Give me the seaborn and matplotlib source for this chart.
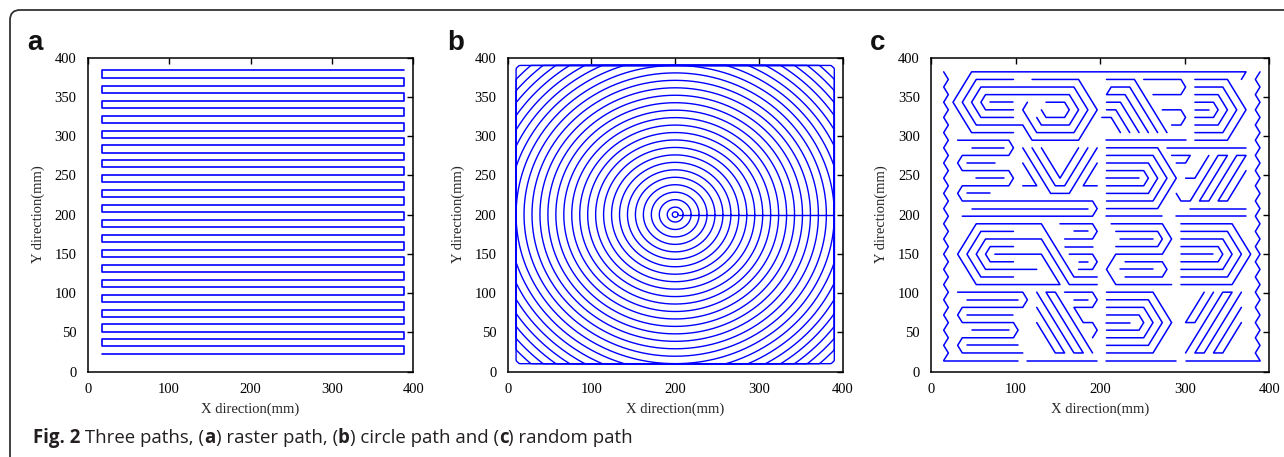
import re
import numpy as np
import pandas as pd
import matplotlib
matplotlib.use("Agg")
import matplotlib.pyplot as plt
import seaborn as sns
from matplotlib.patches import FancyBboxPatch
from matplotlib.transforms import IdentityTransform

W, H = 1284, 457

# (a) raster path: y level of every pass (mm), and x ends of the passes
raster_y = [22, 32, 41, 51, 60, 70, 79, 89, 98, 108,
            117, 127, 136, 146, 155, 165, 174, 184, 193, 203,
            212, 222, 231, 241, 250, 260, 269, 279, 288, 298,
            307, 317, 326, 336, 345, 355, 364, 374, 384]
raster_x_left = 17
raster_x_right = 388

# (b) circle path: ring radii (mm) about the plate centre, clipped to the plate
circle_center = (200, 200)
circle_radii = [3.5, 9.5, 19, 28.5, 38, 47.5, 57, 66.5, 76, 85.5,
                95, 104.5, 114, 123.5, 133, 142.5, 152, 161.5, 171, 180.5,
                190, 199.5, 209, 218.5, 228, 237.5, 247, 256.5, 266]
circle_plate = (10, 390)
link_x = [204, 388]
link_y = [200, 200]

# (c) random path, read as chain codes on the triangular lattice of the picture
# (start column, start row, moves); a column is 5.5 mm, a row is 9.68 mm
lattice_x0, lattice_dx = 15, 5.5
lattice_y0, lattice_dy = 14, 9.68
random_path = [
    # left and right borders
    (0, 38, "dr1 dl1 dr1 dl1 dr1 dl1 dr1 dl1 dr1 dl1 dr1 dl1 dr1 dl1 dr1 dl1 dr1 dl1 dr1 dl1 "
            "dr1 dl1 dr1 dl1 dr1 dl1 dr1 dl1 dr1 dl1 dr1 dl1 dr1 dl1 dr1 dl1 dr1 dl1"),
    (68, 38, "dl1 dr1 dl1 dr1 dl1 dr1 dl1 dr1 dl1 dr1 dl1 dr1 dl1 dr1 dl1 dr1 dl1 dr1 dl1 dr1 "
             "dl1 dr1 dl1 dr1 dl1 dr1 dl1 dr1 dl1 dr1 dl1 dr1 dl1 dr1 dl1 dr1 dl1 dr1"),
    # top band
    (64, 37, "ur1 L59 dl4 dr4 R9"),
    (19, 37, "R10 dr4 dl4 L10 ul2 L10 ul3 ur3 R8"),
    (15, 32, "L7 ul2 ur2 R20 dr3 dl3 L8 ul3 ur1"),
    (15, 33, "L6 ul1 ur1 R18 dr2 dl2 L6 ul1"),
    (10, 34, "R5"),
    (22, 34, "R4 dr1 dl1 L4 ul1"),
    (35, 37, "R6 dr7"),
    (46, 30, "ul6 L4 dl1 R4 dr5"),
    (35, 34, "R3 dr4"),
    (35, 33, "R2 dr3"),
    (34, 32, "R2 dr2"),
    (43, 37, "R8 dr1 dl1 L6"),
    (47, 33, "R4 dr1 dl1 L2"),
    (54, 34, "R4 dr1 dl1 L4"),
    (54, 35, "R5 dr2 dl2 L5"),
    (54, 36, "R6 dr3 dl3 L6"),
    (54, 37, "R7 dr4 dl4 L7"),
    (54, 33, "R3"),
    (35, 29, "R17"),
    # upper middle band
    (3, 29, "R11 dr1 dl1 L10 dl1 dr1 R10 dr1 dl1 L10 dl1 dr1 R28 dr1 dl1 L28"),
    (6, 28, "R7"), (5, 26, "R6"), (7, 24, "R6"), (5, 22, "R5"), (6, 20, "R25"),
    (17, 28, "dr6 R4 ur6"),
    (19, 28, "dr5 R2 ur5"),
    (21, 28, "dr4 ur4"),
    (17, 26, "dr3 L3"),
    (33, 26, "dl3 R3"),
    (35, 25, "R8 dr1 dl1 L8"),
    (35, 26, "R9 dr2 dl2 L9"),
    (35, 27, "R10 dr3 dl3 L10"),
    (35, 28, "R11 dr4 dl4 L11"),
    (35, 24, "R7"),
    (35, 19, "R12"),
    (49, 27, "R4 dl1 L2"),
    (50, 22, "dr1 R2 ur6 R2 dl6 R2 ur6 R2 dl6 R2 ur4"),
    (52, 24, "R2 ur3"),
    (48, 28, "R17"),
    (53, 20, "R12"),
    (50, 19, "R15"),
    # lower middle band
    (33, 11, "L5 ul7 L14 dl4 dr4 R18 ul4 L10"),
    (33, 10, "L6 ul6 L12 dl2 dr2 R11"),
    (15, 15, "L5 dl1 dr1 R5"),
    (15, 17, "L7 dl3 dr3 R7"),
    (25, 18, "R7 dr1 dl1 L6"),
    (28, 17, "R3"),
    (26, 15, "R6"),
    (27, 14, "R5 dr1 dl1 L3"),
    (29, 13, "R2"),
    (36, 18, "R11 dr2 dl2 L10 dl2 dr2 R12"),
    (37, 17, "R9 dr1 dl1 L9"),
    (38, 16, "R7"),
    (39, 13, "R8 dr1 dl1 L8"),
    (38, 12, "R7"),
    (51, 15, "R8 dr1 dl1 L8"),
    (51, 16, "R9 dr2 dl2 L9"),
    (51, 17, "R10 dr3 dl3 L10"),
    (51, 18, "R11 dr4 dl4 L11"),
    (51, 14, "R7"),
    # bottom band
    (3, 9, "R14 dr1 dl1 L13 dl1 dr1 R11 dr1 dl1 L11 dl1 dr1 R13"),
    (5, 8, "R11"), (5, 6, "R10"), (6, 4, "R8"), (5, 2, "R11"),
    (0, 0, "R16"),
    (20, 9, "dr8 R2 ul8 R2 dr8"),
    (20, 7, "dr6 L2 ul4"),
    (26, 9, "R6 dr1 dl1 L4 dr2 R2 dr1 dl1"),
    (28, 8, "R3"),
    (18, 0, "R15"),
    (35, 6, "R7 dr1 dl1 L7"),
    (35, 7, "R8 dr2 dl2 L8"),
    (35, 8, "R9 dr3 dl3 L9"),
    (35, 9, "R10 dr4 dl4 L10"),
    (35, 5, "R5"),
    (35, 0, "R15"),
    (52, 1, "ur8 R2 dl8 R2 ur8"),
    (64, 7, "dl6 R2 ur4"),
    (58, 9, "dl4 L2 ur4"),
    (52, 0, "R16"),
]

path_color = "#0000ff"
STEPS = {"R": (1, 0), "L": (-1, 0), "ur": (1, 1), "ul": (-1, 1),
         "dr": (1, -1), "dl": (-1, -1)}


def raster_frame():
    xs, ys = [], []
    for i, y in enumerate(raster_y):
        ends = [raster_x_left, raster_x_right] if i % 2 == 0 else [raster_x_right, raster_x_left]
        xs += ends
        ys += [y, y]
    return pd.DataFrame({"x": xs, "y": ys, "unit": 0})


def circle_frame():
    theta = np.linspace(0, 2 * np.pi, 721)
    lo, hi = circle_plate
    parts = []
    for k, r in enumerate(circle_radii):
        x = np.clip(circle_center[0] + r * np.cos(theta), lo, hi)
        y = np.clip(circle_center[1] + r * np.sin(theta), lo, hi)
        parts.append(pd.DataFrame({"x": x, "y": y, "unit": k}))
    parts.append(pd.DataFrame({"x": link_x, "y": link_y, "unit": len(circle_radii)}))
    return pd.concat(parts, ignore_index=True)


def maze_frame():
    parts = []
    for k, (c, r, moves) in enumerate(random_path):
        cols, rows = [c], [r]
        for name, n in re.findall(r"([a-zA-Z]+)(\d+)", moves):
            dc, dr = STEPS[name]
            for _ in range(int(n)):
                c += dc
                r += dr
                cols.append(c)
                rows.append(r)
        parts.append(pd.DataFrame({
            "x": lattice_x0 + lattice_dx * np.array(cols),
            "y": lattice_y0 + lattice_dy * np.array(rows),
            "unit": k}))
    return pd.concat(parts, ignore_index=True)


def style_axes(ax):
    ax.set_xlim(0, 400)
    ax.set_ylim(0, 400)
    ax.set_xticks([0, 100, 200, 300, 400])
    ax.set_yticks(list(range(0, 401, 50)))
    ax.tick_params(direction="in", top=True, right=True, length=4, width=1,
                   labelsize=10.5, pad=8, colors="black")
    for s in ax.spines.values():
        s.set_visible(True)
        s.set_linewidth(1.1)
        s.set_color("black")
    ax.set_xlabel("X direction(mm)", fontsize=10.5, labelpad=5)
    ax.set_ylabel("Y direction(mm)", fontsize=10.5, labelpad=7)


sns.set_theme(style="white")
plt.rcParams["font.family"] = ["Liberation Serif", "DejaVu Serif"]

fig = plt.figure(figsize=(W / 100, H / 100), dpi=100)
fig.patch.set_facecolor("white")

panel_left = [87.7, 507.7, 931]
panel_width = [325.6, 335, 338.3]
bottom, height = 0.187, 0.687
frames = [raster_frame(), circle_frame(), maze_frame()]
line_w = [1.2, 1.0, 1.1]

for i, df in enumerate(frames):
    ax = fig.add_axes([panel_left[i] / W, bottom, panel_width[i] / W, height])
    sns.lineplot(data=df, x="x", y="y", units="unit", estimator=None, sort=False,
                 color=path_color, lw=line_w[i], legend=False, ax=ax)
    style_axes(ax)

# panel letters
for letter, px in zip(["a", "b", "c"], [27, 447, 870]):
    fig.text(px / W, 1 - 50 / H, letter, fontsize=20, fontweight="bold",
             family="Liberation Sans", va="baseline", color="#111111")

# caption with bold pieces
pieces = [("Fig. 2", "bold"), (" Three paths, (", "normal"), ("a", "bold"),
          (") raster path, (", "normal"), ("b", "bold"),
          (") circle path and (", "normal"), ("c", "bold"), (") random path", "normal")]
renderer = fig.canvas.get_renderer()
x = 33
for txt, w in pieces:
    t = fig.text(x / W, 1 - 443 / H, txt, fontsize=13.4, fontweight=w,
                 family="Open Sans", va="baseline", color="#231f20")
    x += t.get_window_extent(renderer).width

# rounded frame around the figure
frame = FancyBboxPatch((10, -40), 1400, H - 10 + 40,
                       boxstyle="round,pad=0,rounding_size=10",
                       transform=IdentityTransform(), facecolor="none",
                       edgecolor="#333333", lw=1.3, clip_on=False)
fig.add_artist(frame)

fig.savefig("out.png", dpi=100)
